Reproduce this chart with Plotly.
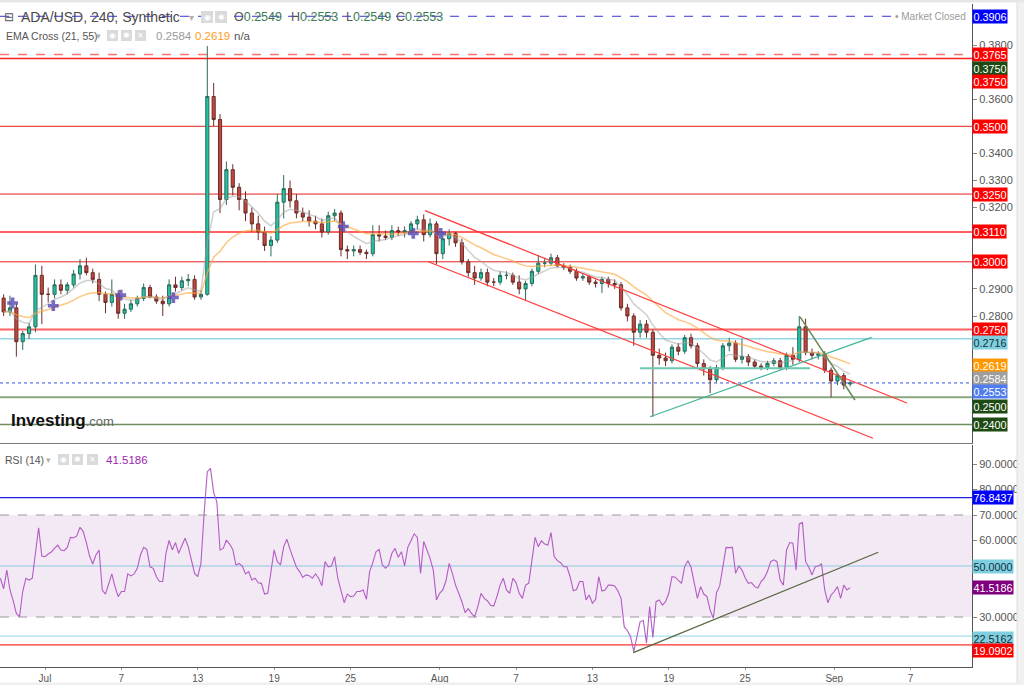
import plotly.graph_objects as go
import pandas as pd

# ---------------- data ----------------
candle_first = "2023-06-27 18:00"   # centre of first 12h candle
candle_step = "12h"
opens = [0.2866,0.2815,0.2830,0.2705,0.2735,0.2760,0.2950,0.2880,0.2880,0.2915,
         0.2895,0.2915,0.2955,0.2985,0.2960,0.2935,0.2880,0.2850,0.2880,0.2810,
         0.2825,0.2845,0.2865,0.2905,0.2870,0.2855,0.2845,0.2915,0.2905,0.2930,
         0.2935,0.2870,0.2880,0.3610,0.3525,0.3230,0.3340,0.3275,0.3230,0.3180,
         0.3140,0.3110,0.3060,0.3080,0.3220,0.3270,0.3225,0.3180,0.3165,0.3150,
         0.3140,0.3110,0.3170,0.3180,0.3045,0.3040,0.3045,0.3035,0.3030,0.3100,
         0.3095,0.3090,0.3115,0.3110,0.3115,0.3140,0.3155,0.3100,0.3140,0.3030,
         0.3085,0.3105,0.3070,0.3000,0.2960,0.2940,0.2960,0.2925,0.2925,0.2950,
         0.2950,0.2925,0.2900,0.2920,0.2965,0.2995,0.2995,0.3015,0.2985,0.2980,
         0.2965,0.2940,0.2945,0.2925,0.2920,0.2935,0.2920,0.2915,0.2830,0.2800,
         0.2740,0.2770,0.2740,0.2655,0.2645,0.2635,0.2685,0.2670,0.2720,0.2690,
         0.2625,0.2605,0.2565,0.2610,0.2690,0.2700,0.2640,0.2650,0.2630,0.2615,
         0.2610,0.2625,0.2635,0.2610,0.2655,0.2640,0.2760,0.2665,0.2655,0.2660,
         0.2600,0.2560,0.2580,0.2549]
highs = [0.2880,0.2875,0.2845,0.2745,0.2775,0.2990,0.2985,0.2905,0.2935,0.2935,
         0.2925,0.2970,0.3010,0.3015,0.2975,0.2960,0.2890,0.2935,0.2895,0.2845,
         0.2860,0.2875,0.2920,0.2915,0.2880,0.2875,0.2935,0.2945,0.2945,0.2955,
         0.2950,0.2895,0.3796,0.3660,0.3545,0.3370,0.3360,0.3290,0.3260,0.3200,
         0.3170,0.3130,0.3095,0.3250,0.3320,0.3300,0.3250,0.3200,0.3190,0.3170,
         0.3160,0.3185,0.3195,0.3190,0.3060,0.3060,0.3060,0.3045,0.3135,0.3135,
         0.3115,0.3135,0.3130,0.3130,0.3150,0.3170,0.3175,0.3160,0.3150,0.3110,
         0.3120,0.3110,0.3085,0.3010,0.2985,0.2975,0.2975,0.2940,0.2965,0.2965,
         0.2960,0.2950,0.2930,0.2975,0.3025,0.3015,0.3030,0.3025,0.2995,0.2990,
         0.2975,0.2955,0.2950,0.2935,0.2945,0.2945,0.2935,0.2925,0.2845,0.2810,
         0.2785,0.2785,0.2750,0.2680,0.2665,0.2695,0.2700,0.2730,0.2735,0.2700,
         0.2640,0.2615,0.2620,0.2700,0.2720,0.2710,0.2715,0.2660,0.2640,0.2625,
         0.2635,0.2645,0.2645,0.2665,0.2685,0.2800,0.2790,0.2680,0.2670,0.2670,
         0.2610,0.2590,0.2590,0.2560]
lows = [0.2800,0.2800,0.2650,0.2675,0.2715,0.2740,0.2770,0.2850,0.2865,0.2880,
        0.2880,0.2905,0.2935,0.2950,0.2920,0.2855,0.2810,0.2835,0.2790,0.2790,
        0.2815,0.2835,0.2855,0.2865,0.2845,0.2800,0.2835,0.2890,0.2895,0.2910,
        0.2860,0.2860,0.2875,0.3500,0.3180,0.3210,0.3245,0.3190,0.3150,0.3110,
        0.3080,0.3040,0.3020,0.3070,0.3160,0.3200,0.3160,0.3150,0.3130,0.3120,
        0.3090,0.3100,0.3150,0.3020,0.3010,0.3020,0.3025,0.3010,0.3020,0.3075,
        0.3080,0.3080,0.3095,0.3090,0.3100,0.3120,0.3075,0.3090,0.2990,0.3010,
        0.3060,0.3055,0.2990,0.2945,0.2915,0.2930,0.2910,0.2910,0.2915,0.2935,
        0.2915,0.2880,0.2855,0.2910,0.2955,0.2980,0.2985,0.2980,0.2970,0.2955,
        0.2930,0.2930,0.2915,0.2905,0.2885,0.2905,0.2900,0.2820,0.2780,0.2690,
        0.2720,0.2720,0.2428,0.2620,0.2615,0.2625,0.2655,0.2660,0.2680,0.2610,
        0.2580,0.2515,0.2555,0.2600,0.2670,0.2630,0.2625,0.2615,0.2605,0.2600,
        0.2600,0.2615,0.2600,0.2600,0.2620,0.2630,0.2655,0.2640,0.2640,0.2590,
        0.2500,0.2545,0.2530,0.2540]
closes = [0.2815,0.2830,0.2705,0.2735,0.2760,0.2950,0.2880,0.2880,0.2915,0.2895,
          0.2915,0.2955,0.2985,0.2960,0.2935,0.2880,0.2850,0.2880,0.2810,0.2825,
          0.2845,0.2865,0.2905,0.2870,0.2855,0.2845,0.2915,0.2905,0.2930,0.2935,
          0.2870,0.2880,0.3610,0.3525,0.3230,0.3340,0.3275,0.3230,0.3180,0.3140,
          0.3110,0.3060,0.3080,0.3220,0.3270,0.3225,0.3180,0.3165,0.3150,0.3140,
          0.3110,0.3170,0.3180,0.3045,0.3040,0.3045,0.3035,0.3030,0.3100,0.3095,
          0.3090,0.3115,0.3110,0.3115,0.3140,0.3155,0.3100,0.3140,0.3030,0.3085,
          0.3105,0.3070,0.3000,0.2960,0.2940,0.2960,0.2925,0.2925,0.2950,0.2950,
          0.2925,0.2900,0.2920,0.2965,0.2995,0.2995,0.3015,0.2985,0.2980,0.2965,
          0.2940,0.2945,0.2925,0.2920,0.2935,0.2920,0.2915,0.2830,0.2800,0.2740,
          0.2770,0.2740,0.2655,0.2645,0.2635,0.2685,0.2670,0.2720,0.2690,0.2625,
          0.2605,0.2565,0.2610,0.2690,0.2700,0.2640,0.2650,0.2630,0.2615,0.2610,
          0.2625,0.2635,0.2610,0.2655,0.2640,0.2760,0.2665,0.2655,0.2660,0.2600,
          0.2560,0.2580,0.2545,0.2553]

ema_fast_span = 7.0    # EMA 21 on 4h bars ~ 7 bars of 12h
ema_slow_span = 18.4   # EMA 55 on 4h bars

rsi_first = "2023-06-27 12:00"
rsi_step = "6h"
rsi_values = [45.2,41.0,48.4,40.6,36.4,31.4,30.1,40.0,45.2,44.5,
              45.2,56.0,65.0,53.9,53.7,54.7,55.5,56.9,58.2,56.3,
              56.0,57.3,61.2,61.1,61.8,65.2,63.5,59.2,53.9,50.8,
              54.3,56.3,40.6,39.0,43.2,46.9,41.9,38.0,40.0,40.0,
              46.9,46.1,46.9,49.1,54.3,57.3,56.5,49.7,49.1,45.8,
              43.9,43.9,55.0,60.0,56.3,59.2,55.0,58.2,60.9,57.6,
              52.6,47.1,45.8,51.0,70.7,87.0,88.3,78.8,75.2,56.3,
              56.9,60.2,58.6,56.5,50.4,51.0,50.0,46.9,47.8,44.5,
              45.2,43.4,43.2,39.0,39.3,48.4,56.3,51.7,50.4,57.6,
              60.5,56.5,53.0,49.5,47.8,45.5,46.5,46.2,45.2,46.9,
              45.2,42.2,51.7,49.7,50.0,53.7,45.2,40.6,35.6,39.0,
              38.0,38.2,40.0,40.0,40.6,36.9,47.8,51.3,55.6,56.5,
              50.4,49.1,50.4,55.0,56.9,53.4,55.6,50.0,57.3,59.9,
              62.6,61.2,47.1,59.6,56.3,53.0,48.4,36.7,39.3,40.6,
              44.2,51.0,47.1,42.5,39.3,36.0,31.7,33.3,31.4,30.1,
              34.1,39.3,37.3,36.4,34.6,34.3,38.0,42.5,45.2,40.6,
              39.3,45.2,43.5,39.3,37.3,42.5,43.2,52.4,61.2,57.6,
              59.9,58.6,58.2,63.1,53.7,52.1,51.3,49.7,49.7,45.8,
              40.3,40.8,43.9,43.9,36.7,38.6,35.4,36.9,45.8,40.2,
              40.6,42.5,42.5,42.2,40.3,37.3,26.2,24.6,22.3,16.4,
              22.3,28.2,28.6,19.7,34.1,22.0,36.0,36.7,34.7,36.0,
              39.3,45.8,45.6,44.5,43.2,49.7,52.1,49.5,43.9,37.3,
              41.9,39.0,38.0,32.7,29.5,39.5,42.2,49.7,57.3,57.2,
              57.3,47.1,50.0,48.4,45.4,43.2,43.5,41.9,41.4,43.9,
              45.2,47.8,51.7,52.4,51.7,44.5,42.5,56.3,59.2,58.9,
              48.4,66.5,67.0,51.7,49.5,46.5,49.7,50.0,50.8,40.6,
              35.6,38.6,40.0,41.9,37.3,42.5,40.6,41.5186]

cross_times = ["2023-06-28 11:00", "2023-07-01 15:40", "2023-07-06 22:50", "2023-07-11 02:00",
               "2023-07-24 10:20", "2023-07-29 22:20", "2023-08-01 02:00"]
cross_prices = [0.2848, 0.2838, 0.2877, 0.2868, 0.3130, 0.3105, 0.3105]

price_levels = [0.3906, 0.3765, 0.3750, 0.3500, 0.3250, 0.3110, 0.3000, 0.2750, 0.2716, 0.2553, 0.2500, 0.2400]
rsi_levels = [76.8437, 70.0, 50.0, 30.0, 22.5162, 19.0902]
rsi_band = [30.0, 70.0]

# drawn trend lines: (time0, value0, time1, value1)
channel_upper = ("2023-07-30 20:24", 0.3189, "2023-09-06 17:00", 0.2479)
channel_lower = ("2023-07-31 02:40", 0.3000, "2023-09-04 01:00", 0.2349)
triangle_rise = ("2023-08-17 12:40", 0.2428, "2023-09-03 22:30", 0.2721)
triangle_flat = ("2023-08-16 17:50", 0.2607, "2023-08-30 02:10", 0.2607)
triangle_fall = ("2023-08-29 07:30", 0.2797, "2023-09-02 15:00", 0.2490)
rsi_trend = ("2023-08-16 05:00", 16.0, "2023-09-04 11:00", 55.4)

price_label_text = ["0.3906", "0.3765", "0.3750", "0.3750", "0.3500", "0.3250", "0.3110", "0.3000",
                    "0.2750", "0.2716", "0.2619", "0.2584", "0.2553", "0.2500", "0.2400"]
price_label_at = [0.3906, 0.3765, 0.3750, 0.3750, 0.3500, 0.3250, 0.3110, 0.3000,
                  0.2750, 0.2716, 0.2619, 0.2584, 0.2553, 0.2500, 0.2400]
rsi_label_text = ["76.8437", "50.0000", "41.5186", "22.5162", "19.0902"]
rsi_label_at = [76.8437, 50.0, 41.5186, 22.5162, 19.0902]

price_ticks = [0.38, 0.36, 0.34, 0.33, 0.32, 0.29, 0.28]
rsi_ticks = [90, 80, 70, 60, 30]
date_ticks = ["2023-07-01", "2023-07-07", "2023-07-13", "2023-07-19", "2023-07-25", "2023-08-01",
              "2023-08-07", "2023-08-13", "2023-08-19", "2023-08-25", "2023-09-01", "2023-09-07"]
date_tick_text = ["Jul", "7", "13", "19", "25", "Aug", "7", "13", "19", "25", "Sep", "7"]

# ---------------- styling / layout ----------------
FONT = "Liberation Sans, Arial, sans-serif"
W, H = 1024, 685
PL, PR, PT, PB = 0, 972, 4, 667          # plot area in pixels
price_bottom_px, rsi_top_px = 443, 445
x_range = ["2023-06-27 11:10", "2023-09-11 19:40"]
price_range = [0.233137, 0.395129]
rsi_range = [10.39, 97.45]

def px(xp):
    return (xp - PL) / (PR - PL)

def py(yp):
    return (PB - yp) / (PB - PT)

candle_times = pd.date_range(candle_first, periods=len(closes), freq=candle_step)
rsi_times = pd.date_range(rsi_first, periods=len(rsi_values), freq=rsi_step)
close_s = pd.Series(closes)
ema_fast = close_s.ewm(span=ema_fast_span, adjust=False).mean()
ema_slow = close_s.ewm(span=ema_slow_span, adjust=False).mean()

fig = go.Figure()
fig.add_trace(go.Scatter(x=candle_times, y=ema_slow, mode="lines",
                         line=dict(color="rgba(255,168,60,0.65)", width=1.5),
                         hoverinfo="skip", showlegend=False))
fig.add_trace(go.Scatter(x=candle_times, y=ema_fast, mode="lines",
                         line=dict(color="rgba(160,160,160,0.5)", width=1.5),
                         hoverinfo="skip", showlegend=False))
fig.add_trace(go.Candlestick(x=candle_times, open=opens, high=highs, low=lows, close=closes,
                             increasing=dict(line=dict(color="#2b6a5a", width=1), fillcolor="#22c3a3"),
                             decreasing=dict(line=dict(color="#6a2e2a", width=1), fillcolor="#c2463e"),
                             whiskerwidth=0, hoverinfo="skip", showlegend=False))
fig.add_trace(go.Scatter(x=cross_times, y=cross_prices, mode="markers",
                         marker=dict(symbol="cross", size=9, color="rgba(85,70,180,0.8)",
                                     line=dict(width=0)),
                         hoverinfo="skip", showlegend=False))
fig.add_trace(go.Scatter(x=rsi_times, y=rsi_values, mode="lines", xaxis="x2", yaxis="y2",
                         line=dict(color="#b35cc4", width=1.1),
                         hoverinfo="skip", showlegend=False))

shapes = []
# RSI band
shapes.append(dict(type="rect", xref="paper", yref="y2", x0=0, x1=1, y0=rsi_band[0], y1=rsi_band[1],
                   fillcolor="rgba(140,40,150,0.10)", line=dict(width=0), layer="below"))

level_styles = [
    dict(color="#3535d8", width=1, dash="dash"),
    dict(color="#ff7070", width=1.5, dash="dash"),
    dict(color="#ff2020", width=1.5, dash="solid"),
    dict(color="#e82020", width=1, dash="solid"),
    dict(color="#e82020", width=1, dash="solid"),
    dict(color="#ff6060", width=2, dash="solid"),
    dict(color="#e82020", width=1, dash="solid"),
    dict(color="#ff6060", width=2, dash="solid"),
    dict(color="#95d6e6", width=1.5, dash="solid"),
    dict(color="#3355ee", width=1, dash="dot"),
    dict(color="#8aa67e", width=2, dash="solid"),
    dict(color="#6f8f62", width=1.5, dash="solid"),
]
for v, st in zip(price_levels, level_styles):
    shapes.append(dict(type="line", xref="paper", yref="y", x0=0, x1=1, y0=v, y1=v,
                       line=st, layer="below"))

rsi_level_styles = [
    dict(color="#2020e0", width=1.2, dash="solid"),
    dict(color="#9a9a9a", width=1, dash="dash"),
    dict(color="#8cc8e0", width=1, dash="solid"),
    dict(color="#9a9a9a", width=1, dash="dash"),
    dict(color="#a6dfec", width=1.2, dash="solid"),
    dict(color="#ff3030", width=1.2, dash="solid"),
]
for v, st in zip(rsi_levels, rsi_level_styles):
    shapes.append(dict(type="line", xref="paper", yref="y2", x0=0, x1=1, y0=v, y1=v,
                       line=st, layer="below"))

def seg(d, color, width, xr="x", yr="y"):
    return dict(type="line", xref=xr, yref=yr, x0=d[0], y0=d[1], x1=d[2], y1=d[3],
                line=dict(color=color, width=width), layer="above")

shapes.append(seg(channel_upper, "#ff3a3a", 1.2))
shapes.append(seg(channel_lower, "#ff3a3a", 1.2))
shapes.append(seg(triangle_rise, "#3db59b", 1.2))
shapes.append(seg(triangle_flat, "#6cc8b0", 2))
shapes.append(seg(triangle_fall, "#6a8a58", 1.5))
shapes.append(seg(rsi_trend, "#566640", 1.3, "x2", "y2"))

# frame decorations
shapes.append(dict(type="rect", xref="paper", yref="paper", x0=px(1017), x1=px(1030), y0=py(690), y1=py(-5),
                   fillcolor="#f1f1f1", line=dict(width=0)))
shapes.append(dict(type="line", xref="paper", yref="paper", x0=px(1017), x1=px(1017), y0=py(690), y1=py(-5),
                   line=dict(color="#dcdcdc", width=1)))
shapes.append(dict(type="rect", xref="paper", yref="paper", x0=px(-5), x1=px(1030), y0=py(690), y1=py(682.5),
                   fillcolor="#efefef", line=dict(width=0)))
shapes.append(dict(type="rect", xref="paper", yref="paper", x0=px(-5), x1=px(1030), y0=py(2.5), y1=py(-5),
                   fillcolor="#e6e6e6", line=dict(width=0)))

# header icon boxes
icon_boxes = [(201, 11, 213, 23), (215, 11, 227, 23),
              (107, 30, 118, 41), (121, 30, 132, 41), (135, 30, 146, 41),
              (58, 454, 69, 465), (72, 454, 83, 465), (87, 454, 98, 465)]
for x0, y0, x1, y1 in icon_boxes:
    shapes.append(dict(type="rect", xref="paper", yref="paper", x0=px(x0), x1=px(x1), y0=py(y1), y1=py(y0),
                       fillcolor="#dadada", line=dict(width=0)))

annotations = []

def txt(text, xp, yp, size, color, **kw):
    d = dict(text=text, x=px(xp), y=py(yp), xref="paper", yref="paper", xanchor="left",
             yanchor="middle", showarrow=False, font=dict(size=size, color=color, family=FONT))
    d.update(kw)
    return d

annotations.append(txt("⊟", 2, 17, 12, "#555"))
annotations.append(txt("ADA/USD, 240, Synthetic", 19, 17, 14, "#4a4a4a"))
annotations.append(txt("▾", 187, 17, 10, "#b0b0b0"))
for lab, val, xp in [("O", "0.2549", 232), ("H", "0.2553", 289), ("L", "0.2549", 344), ("C", "0.2553", 394)]:
    annotations.append(txt(lab + "<span style='color:#3c7a54'>" + val + "</span>", xp, 17, 12.5, "#555"))
annotations.append(txt("EMA Cross (21, 55)", 4, 36, 10.5, "#555"))
annotations.append(txt("▾", 94, 36, 9, "#b0b0b0"))
annotations.append(txt("0.2584", 154, 36, 11.5, "#9a9a9a"))
annotations.append(txt("0.2619", 193, 36, 11.5, "#ff9a1a"))
annotations.append(txt("n/a", 232, 36, 11.5, "#555"))
annotations.append(txt("RSI (14)", 3, 460, 10.5, "#555"))
annotations.append(txt("▾", 44, 460, 9, "#b0b0b0"))
annotations.append(txt("41.5186", 104, 460, 11.5, "#9c27b0"))
annotations.append(txt("<b>Investing</b><span style='font-size:13px;color:#666'>.com</span>",
                       9, 420, 17, "#111"))
annotations.append(dict(text="• Market Closed", x=px(968), y=py(16), xref="paper", yref="paper",
                        xanchor="right", yanchor="middle", showarrow=False, bgcolor="white",
                        font=dict(size=10, color="#9a9a9a", family=FONT)))
for gx, gy, ch in [(207, 17, "◉"), (221, 17, "✱"), (112.5, 35.5, "◉"), (126.5, 35.5, "✱"),
                   (140.5, 35.5, "✕"), (63.5, 459.5, "◉"), (77.5, 459.5, "✱"), (92.5, 459.5, "✕")]:
    annotations.append(dict(text=ch, x=px(gx), y=py(gy), xref="paper", yref="paper", xanchor="center",
                            yanchor="middle", showarrow=False,
                            font=dict(size=8, color="white", family="DejaVu Sans")))

price_label_shift = [0, -0.5, -10, -23, 0, 0, 0, 0, 0, -4, 0, -3.5, -9, -9, 0]
price_label_bg = ["#0000ff", "#ff0000", "#1e4b14", "#ff0000", "#ff0000", "#ff0000", "#ff0000", "#ff0000",
                  "#ff0000", "#80cfe0", "#ff9800", "#9e9e9e", "#4f7cf0", "#1e4b14", "#1e4b14"]
price_label_fg = ["white"] * 9 + ["#13303a"] + ["white"] * 5
for t, v, s, bg, fg in zip(price_label_text, price_label_at, price_label_shift, price_label_bg, price_label_fg):
    annotations.append(dict(text=t, x=1, xref="paper", xanchor="left", y=v, yref="y", yshift=s,
                            yanchor="middle", showarrow=False, bgcolor=bg, borderpad=0.5,
                            font=dict(size=10.8, color=fg, family=FONT)))

rsi_label_shift = [0, 0, 0, -2, -6]
rsi_label_bg = ["#0000ff", "#80cfe0", "#800080", "#80cfe0", "#ff0000"]
rsi_label_fg = ["white", "#13303a", "white", "#13303a", "white"]
for t, v, s, bg, fg in zip(rsi_label_text, rsi_label_at, rsi_label_shift, rsi_label_bg, rsi_label_fg):
    annotations.append(dict(text=t, x=1, xref="paper", xanchor="left", y=v, yref="y2", yshift=s,
                            yanchor="middle", showarrow=False, bgcolor=bg, borderpad=0.5,
                            font=dict(size=10.8, color=fg, family=FONT)))

price_dom_bottom = py(price_bottom_px)
rsi_dom_top = py(rsi_top_px)

fig.update_layout(
    width=W, height=H,
    margin=dict(l=PL, r=W - PR, t=PT, b=H - PB),
    paper_bgcolor="white", plot_bgcolor="white",
    font=dict(family=FONT),
    showlegend=False,
    hovermode=False,
    xaxis=dict(domain=[0, 1], anchor="y", range=x_range, showticklabels=False, showgrid=False,
               zeroline=False, rangeslider=dict(visible=False), showline=True, linecolor="#7a7a7a",
               linewidth=1, ticks=""),
    yaxis=dict(domain=[price_dom_bottom, 1], anchor="x", side="right", range=price_range,
               tickvals=price_ticks, tickformat=".4f", ticks="outside", ticklen=4, tickcolor="#888",
               tickfont=dict(size=11, color="#555", family=FONT), showline=True, linecolor="#555",
               showgrid=False, zeroline=False),
    xaxis2=dict(domain=[0, 1], anchor="y2", range=x_range, tickvals=date_ticks, ticktext=date_tick_text,
                ticks="outside", ticklen=2, tickcolor="#999", tickfont=dict(size=10, color="#555", family=FONT),
                showline=True, linecolor="#555", showgrid=False, zeroline=False),
    yaxis2=dict(domain=[0, rsi_dom_top], anchor="x2", side="right", range=rsi_range,
                tickvals=rsi_ticks, tickformat=".4f", ticks="outside", ticklen=4, tickcolor="#888",
                tickfont=dict(size=11, color="#555", family=FONT), showline=True, linecolor="#555",
                showgrid=False, zeroline=False),
    shapes=shapes,
    annotations=annotations,
)

fig.write_html("out.html", config={"displayModeBar": False, "staticPlot": True})
with open("out.html", "r", encoding="utf-8") as f:
    html = f.read()
html = html.replace("<body>", "<body style=\"margin:0;padding:0;overflow:hidden\">", 1)
with open("out.html", "w", encoding="utf-8") as f:
    f.write(html)
